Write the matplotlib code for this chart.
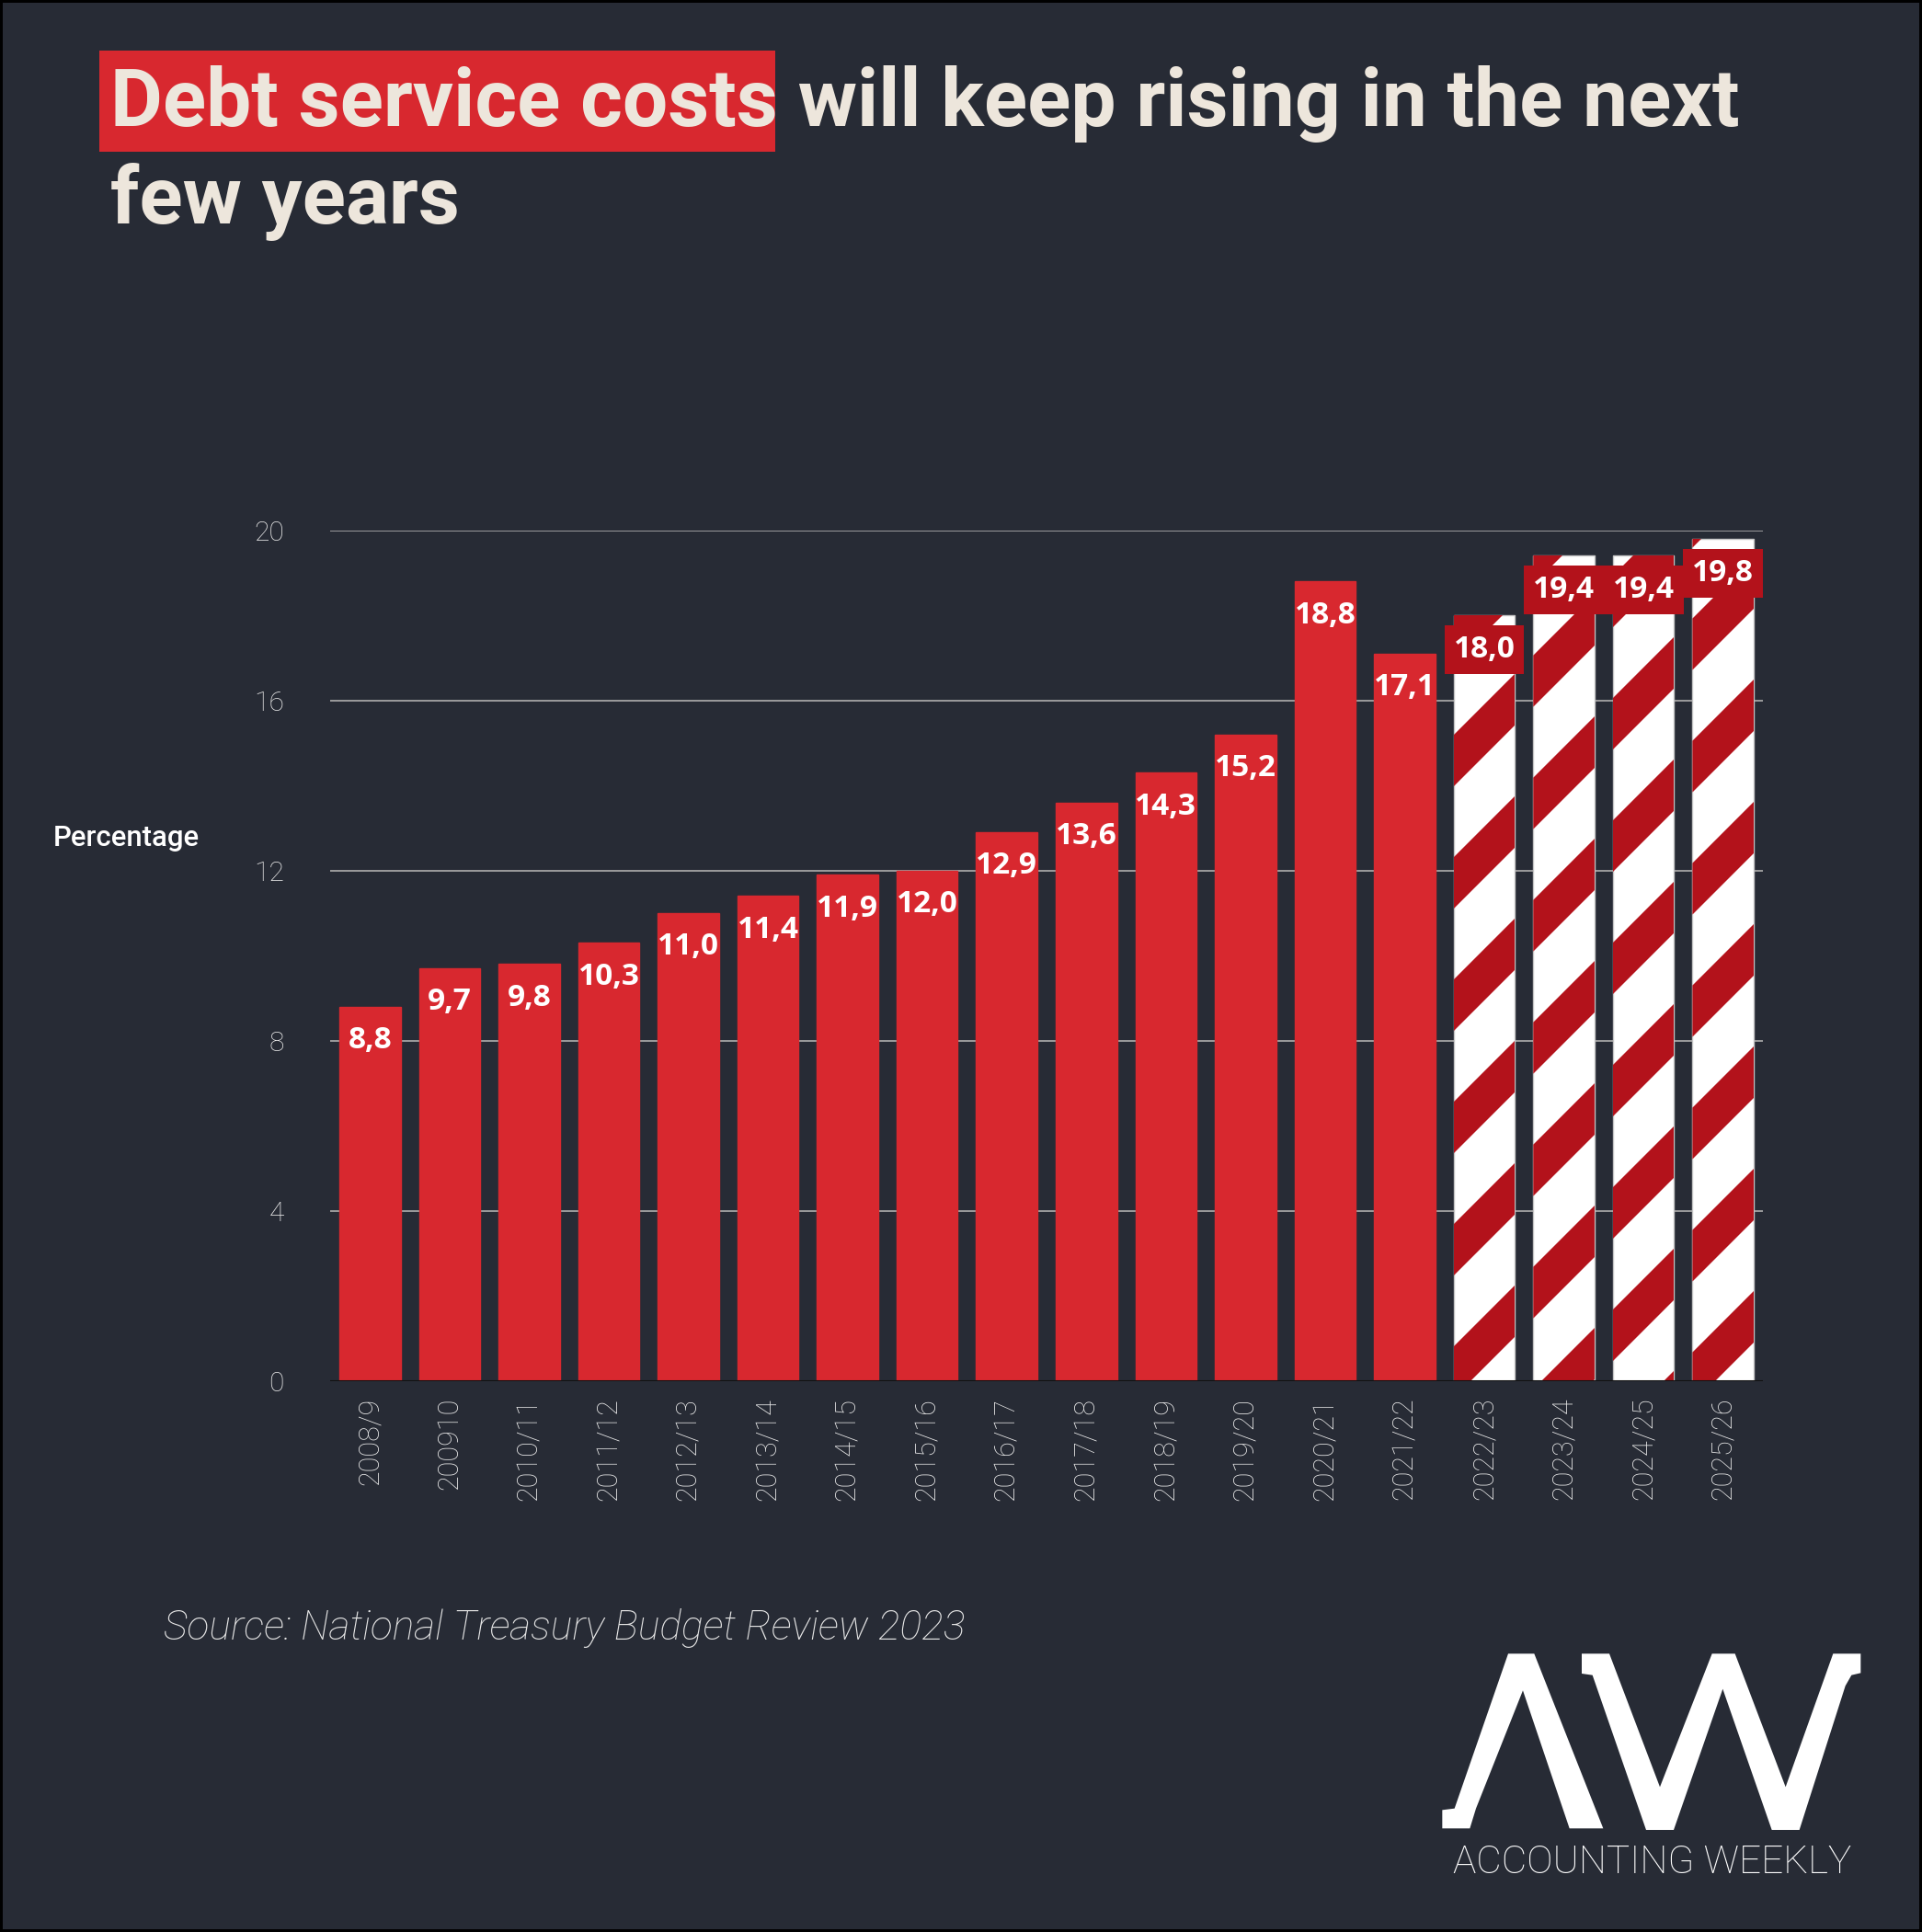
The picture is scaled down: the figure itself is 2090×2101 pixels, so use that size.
import math
import matplotlib
matplotlib.use('Agg')
import matplotlib.pyplot as plt
from matplotlib.patches import Rectangle, Polygon
import numpy as np

# ---------------- data ----------------
categories = ['2008/9', '200910', '2010/11', '2011/12', '2012/13', '2013/14',
              '2014/15', '2015/16', '2016/17', '2017/18', '2018/19', '2019/20',
              '2020/21', '2021/22', '2022/23', '2023/24', '2024/25', '2025/26']
values = [8.8, 9.7, 9.8, 10.3, 11.0, 11.4, 11.9, 12.0, 12.9, 13.6, 14.3, 15.2,
          18.8, 17.1, 18.0, 19.4, 19.4, 19.8]
projected = [False] * 14 + [True] * 4
yticks = [0, 4, 8, 12, 16, 20]

title_highlight = 'Debt service costs'
title_rest = ' will keep rising in the next'
title_line2 = 'few years'
y_label = 'Percentage'
source_text = 'Source: National Treasury Budget Review 2023'
brand_text = 'ACCOUNTING WEEKLY'

# ---------------- style ----------------
BG = '#272B35'
RED = '#D8282F'
DARK_RED = '#B3121B'
CREAM = '#EDE6DC'
TICK = '#EAEAEA'
W, H = 2090, 2101
TITLE_SIZE = 63

fig = plt.figure(figsize=(W / 100, H / 100), dpi=100, facecolor=BG)
fig.patch.set_edgecolor('black')
fig.patch.set_linewidth(4)

# overlay axes in pixel coordinates for decoration
ov = fig.add_axes([0, 0, 1, 1])
ov.set_xlim(0, W)
ov.set_ylim(H, 0)
ov.axis('off')

ax = fig.add_axes([359 / W, 1 - 1501.7 / H, (1917 - 359) / W, (1501.7 - 576.7) / H])
ax.patch.set_alpha(0)

x = np.arange(len(categories))
colors = ['white' if p else RED for p in projected]
edges = ['#C4C4C4' if p else RED for p in projected]
bars = ax.bar(x, values, width=0.77, color=colors, edgecolor=edges, linewidth=1, zorder=2)
ax.set_xlim(-0.5, len(categories) - 0.5)
ax.set_ylim(0, 20)

# diagonal stripes for projected bars
pos = ax.get_position()
px_x = pos.width * W / len(categories)
px_y = pos.height * H / 20
slope = px_x / px_y
P = 133 / px_y
T = 56 / px_y
for b, p in zip(bars, projected):
    if not p:
        continue
    x0 = b.get_x()
    x1 = x0 + b.get_width()
    h = b.get_height()
    k0 = math.floor((-slope * x1 - P) / P)
    k1 = math.ceil((h - slope * x0 + P) / P)
    for k in range(k0, k1 + 1):
        c = k * P
        poly = Polygon([(x0, slope * x0 + c), (x1, slope * x1 + c),
                        (x1, slope * x1 + c + T), (x0, slope * x0 + c + T)],
                       closed=True, facecolor=DARK_RED, edgecolor='none', zorder=2.5)
        ax.add_patch(poly)
        poly.set_clip_path(b)

# value labels
for xi, v, p in zip(x, values, projected):
    lab = f"{v:.1f}".replace('.', ',')
    kw = dict(ha='center', va='center', color='white', fontsize=24,
              fontweight='bold', family=['Open Sans', 'DejaVu Sans'], zorder=6)
    if p:
        kw['bbox'] = dict(boxstyle='square,pad=0.3', fc=DARK_RED, ec='none')
        off = -27
    else:
        off = -26.5
    ax.annotate(lab, (xi, v), xytext=(0, off), textcoords='offset points', **kw)

# grid, spines, ticks
ax.yaxis.grid(True, color='#9C9C9C', linewidth=1.4)
ax.xaxis.grid(False)
ax.set_axisbelow(True)
for s in ax.spines.values():
    s.set_visible(False)
ax.axhline(0, color='#111111', linewidth=2.2, zorder=4)

ax.set_yticks(yticks)
ax.set_yticklabels([str(t) for t in yticks], family='Roboto', fontweight='light',
                   fontsize=21.5, color=TICK)
ax.tick_params(axis='y', length=0, pad=36)
ax.set_xticks(x)
ax.set_xticklabels(categories, rotation=90, family='Roboto', fontweight='light',
                   fontsize=22, color=TICK)
ax.tick_params(axis='x', length=0, pad=13)

# title
t1 = ov.text(120, 137, title_highlight, fontsize=TITLE_SIZE, fontweight='bold', family='Roboto',
             color=CREAM, va='baseline', ha='left', zorder=3)
renderer = fig.canvas.get_renderer()
bb = t1.get_window_extent(renderer)
x_end = ov.transData.inverted().transform((bb.x1, bb.y0))[0]
ov.add_patch(Rectangle((108, 55), x_end - 3 - 108, 110, facecolor=RED, edgecolor='none', zorder=1))
ov.text(x_end, 137, title_rest, fontsize=TITLE_SIZE, fontweight='bold', family='Roboto',
        color=CREAM, va='baseline', ha='left', zorder=3)
ov.text(120, 243, title_line2, fontsize=TITLE_SIZE, fontweight='bold', family='Roboto',
        color=CREAM, va='baseline', ha='left', zorder=3)

# y label
ov.text(58, 912, y_label, fontsize=22.4, fontweight='medium', family='Roboto',
        color='white', va='center', ha='left')

# source
ov.text(178, 1771, source_text, fontsize=32, fontstyle='italic', fontweight='light',
        family='Roboto', color='#E6E6E6', va='center', ha='left')

# logo
def conv(pts):
    return [(1550 + a / 3, 1780 + b / 3) for a, b in pts]

lam = [(270, 55), (355, 55), (580, 625), (470, 625), (318, 175), (165, 560),
       (145, 625), (55, 625), (55, 565), (95, 560)]
wpts = [(510, 55), (600, 55), (765, 490), (935, 55), (1010, 55), (1175, 490),
        (1330, 55), (1420, 55), (1420, 118), (1390, 125), (1370, 160), (1220, 630),
        (1130, 630), (970, 170), (810, 630), (720, 630), (545, 125), (510, 120)]
ov.add_patch(Polygon(conv(lam), closed=True, facecolor='white', edgecolor='none'))
ov.add_patch(Polygon(conv(wpts), closed=True, facecolor='white', edgecolor='none'))
ov.text(1580, 2037, brand_text, fontsize=30.5, fontweight='light', family='Roboto',
        color='white', va='baseline', ha='left')

fig.savefig('out.png', dpi=100, facecolor=BG)
